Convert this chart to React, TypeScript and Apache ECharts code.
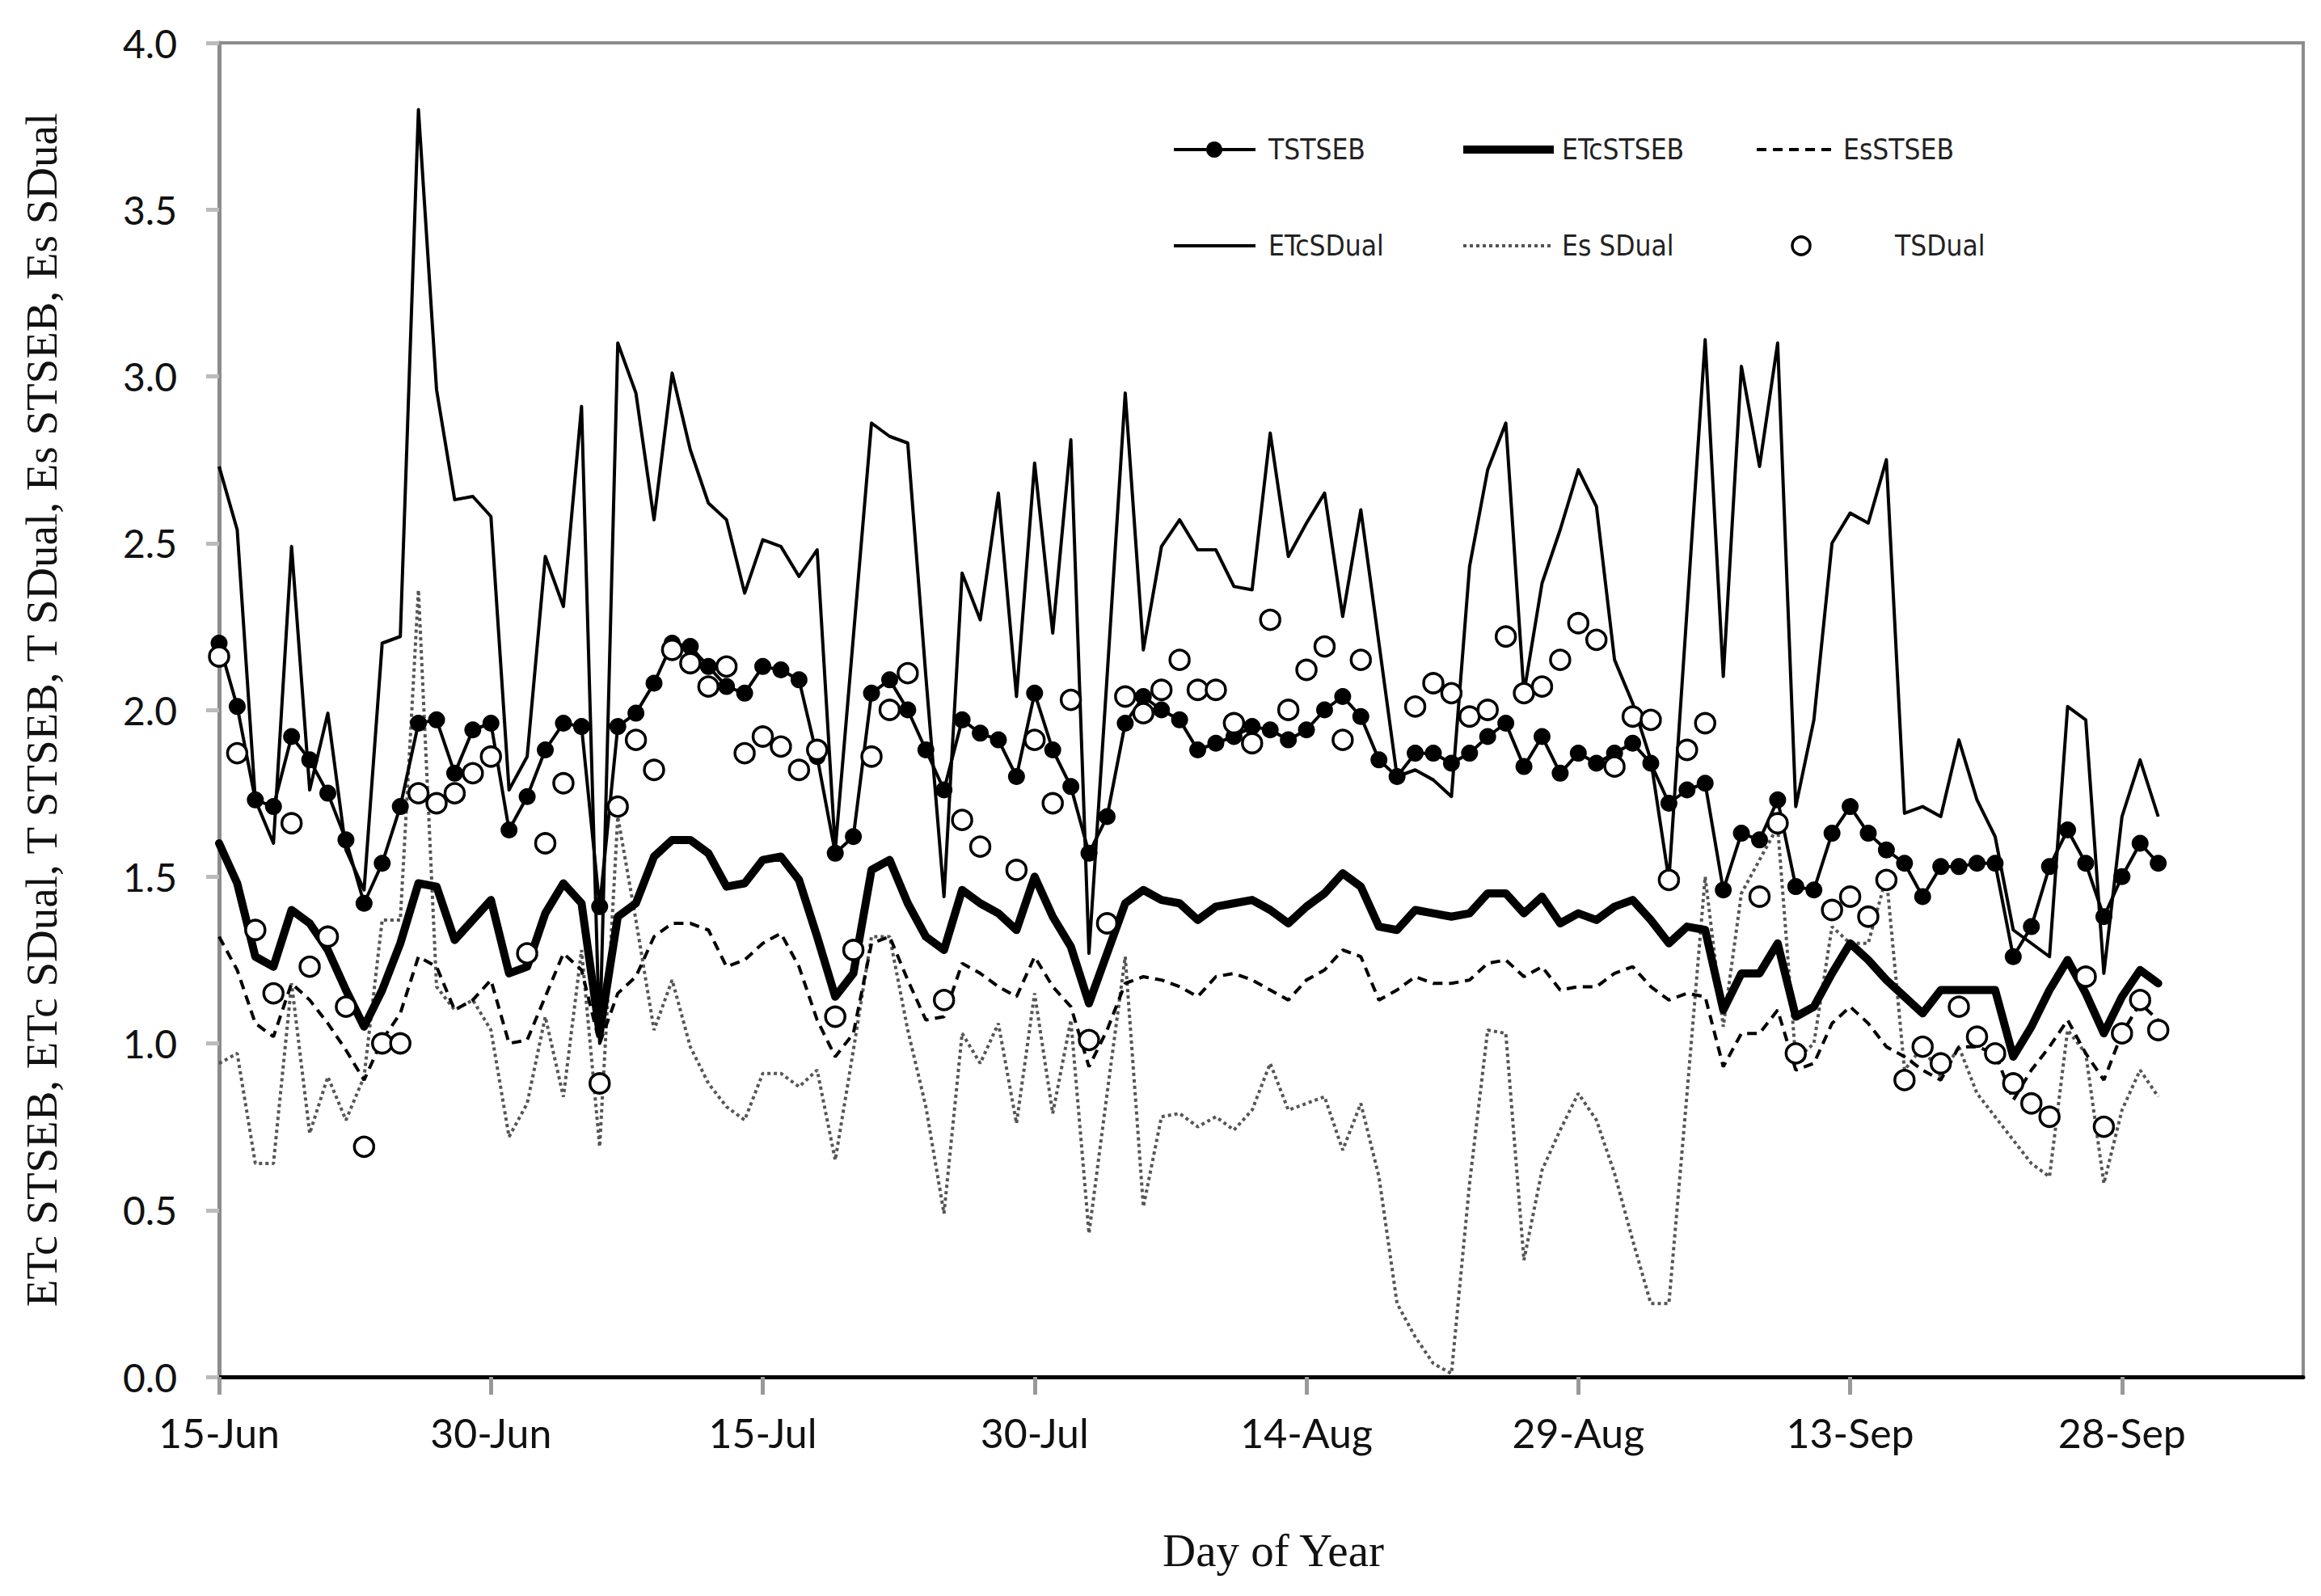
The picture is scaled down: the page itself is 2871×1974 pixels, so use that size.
import React, { useEffect, useRef } from "react";
import * as echarts from "echarts";

const W = 2871;
const H = 1974;

// x axis: days since 15-Jun, ticks every 15 days
const xTickLabels = ["15-Jun", "30-Jun", "15-Jul", "30-Jul", "14-Aug", "29-Aug", "13-Sep", "28-Sep"];

const tSTSEB = [
  2.20, 2.01, 1.73, 1.71, 1.92, 1.85, 1.75, 1.61, 1.42, 1.54,
  1.71, 1.96, 1.97, 1.81, 1.94, 1.96, 1.64, 1.74, 1.88, 1.96,
  1.95, 1.41, 1.95, 1.99, 2.08, 2.20, 2.19, 2.13,
  2.07, 2.05, 2.13, 2.12, 2.09, 1.86, 1.57, 1.62, 2.05, 2.09,
  2.00, 1.88, 1.76, 1.97, 1.93, 1.91, 1.80, 2.05, 1.88, 1.77,
  1.57, 1.68, 1.96, 2.04, 2.00, 1.97, 1.88,
  1.90, 1.92, 1.95, 1.94, 1.91, 1.94, 2.00, 2.04, 1.98, 1.85,
  1.80, 1.87, 1.87, 1.84, 1.87, 1.92, 1.96, 1.83, 1.92, 1.81,
  1.87, 1.84, 1.87, 1.90, 1.84, 1.72, 1.76,
  1.78, 1.46, 1.63, 1.61, 1.73, 1.47, 1.46, 1.63, 1.71, 1.63,
  1.58, 1.54, 1.44, 1.53, 1.53, 1.54, 1.54, 1.26, 1.35, 1.53,
  1.64, 1.54, 1.38, 1.50, 1.60, 1.54,
];

const etcSTSEB = [
  1.60, 1.48, 1.26, 1.23, 1.40, 1.36, 1.28, 1.16, 1.05, 1.16,
  1.30, 1.48, 1.47, 1.31, 1.37, 1.43, 1.21, 1.23, 1.39, 1.48,
  1.42, 1.03, 1.38, 1.42, 1.56, 1.61, 1.61, 1.57,
  1.47, 1.48, 1.55, 1.56, 1.49, 1.32, 1.14, 1.21, 1.52, 1.55,
  1.42, 1.32, 1.28, 1.46, 1.42, 1.39, 1.34, 1.50, 1.38, 1.29,
  1.12, 1.27, 1.42, 1.46, 1.43, 1.42, 1.37,
  1.41, 1.42, 1.43, 1.40, 1.36, 1.41, 1.45, 1.51, 1.47, 1.35,
  1.34, 1.40, 1.39, 1.38, 1.39, 1.45, 1.45, 1.39, 1.44, 1.36,
  1.39, 1.37, 1.41, 1.43, 1.37, 1.30, 1.35,
  1.34, 1.10, 1.21, 1.21, 1.30, 1.08, 1.11, 1.21, 1.30, 1.25,
  1.19, 1.14, 1.09, 1.16, 1.16, 1.16, 1.16, 0.96, 1.05, 1.16,
  1.25, 1.15, 1.03, 1.14, 1.22, 1.18,
];

const esSTSEB = [
  1.32, 1.22, 1.06, 1.02, 1.18, 1.13, 1.06, 0.98, 0.89, 1.01,
  1.09, 1.26, 1.23, 1.10, 1.13, 1.19, 1.00, 1.01, 1.14, 1.27,
  1.22, 1.00, 1.15, 1.20, 1.32, 1.36, 1.36, 1.34,
  1.23, 1.25, 1.30, 1.33, 1.23, 1.07, 0.96, 1.03, 1.30, 1.32,
  1.19, 1.07, 1.08, 1.24, 1.21, 1.17, 1.14, 1.26, 1.17, 1.11,
  0.93, 1.04, 1.18, 1.20, 1.19, 1.17, 1.14,
  1.20, 1.21, 1.19, 1.16, 1.13, 1.19, 1.22, 1.28, 1.26, 1.13,
  1.16, 1.20, 1.18, 1.18, 1.19, 1.24, 1.25, 1.20, 1.23, 1.16,
  1.17, 1.17, 1.21, 1.23, 1.17, 1.13, 1.15,
  1.14, 0.93, 1.03, 1.03, 1.10, 0.92, 0.94, 1.06, 1.11, 1.06,
  0.99, 0.96, 0.92, 0.89, 0.99, 0.99, 0.97, 0.83, 0.92, 0.99,
  1.07, 0.97, 0.89, 1.03, 1.12, 1.07,
];

const etcSDual = [
  2.73, 2.54, 1.73, 1.60, 2.49, 1.76, 1.99, 1.58, 1.46, 2.20,
  2.22, 3.80, 2.96, 2.63, 2.64, 2.58, 1.76, 1.86, 2.46, 2.31,
  2.91, 1.00, 3.10, 2.95, 2.57, 3.01, 2.78, 2.62,
  2.57, 2.35, 2.51, 2.49, 2.40, 2.48, 1.58, 2.22, 2.86, 2.82,
  2.80, 2.10, 1.44, 2.41, 2.27, 2.65, 2.04, 2.74, 2.23, 2.81,
  1.27, 2.10, 2.95, 2.18, 2.49, 2.57, 2.48,
  2.48, 2.37, 2.36, 2.83, 2.46, 2.56, 2.65, 2.28, 2.60, 2.20,
  1.80, 1.82, 1.79, 1.74, 2.43, 2.72, 2.86, 2.05, 2.38, 2.54,
  2.72, 2.61, 2.15, 2.02, 1.85, 1.49, 2.30,
  3.11, 2.10, 3.03, 2.73, 3.10, 1.71, 1.97, 2.50, 2.59, 2.56,
  2.75, 1.69, 1.71, 1.68, 1.91, 1.73, 1.62, 1.34, 1.30, 1.26,
  2.01, 1.97, 1.21, 1.68, 1.85, 1.68,
];

const esSDual = [
  0.94, 0.97, 0.64, 0.64, 1.18, 0.73, 0.90, 0.77, 0.90, 1.37,
  1.37, 2.36, 1.17, 1.10, 1.13, 1.04, 0.72, 0.82, 1.08, 0.84,
  1.28, 0.69, 1.68, 1.37, 1.04, 1.19, 0.99, 0.88,
  0.81, 0.77, 0.91, 0.91, 0.87, 0.92, 0.65, 0.98, 1.32, 1.32,
  1.04, 0.81, 0.49, 1.03, 0.94, 1.06, 0.76, 1.15, 0.79, 1.07,
  0.43, 0.85, 1.26, 0.51, 0.78, 0.79, 0.75,
  0.78, 0.74, 0.80, 0.94, 0.80, 0.82, 0.84, 0.68, 0.82, 0.60,
  0.22, 0.12, 0.04, 0.01, 0.58, 1.04, 1.03, 0.35, 0.62, 0.74,
  0.85, 0.77, 0.61, 0.41, 0.22, 0.22, 0.85,
  1.50, 1.05, 1.45, 1.55, 1.65, 0.95, 1.00, 1.35, 1.30, 1.30,
  1.50, 0.92, 0.99, 0.90, 0.99, 0.85, 0.78, 0.71, 0.64, 0.60,
  1.04, 0.97, 0.58, 0.80, 0.92, 0.84,
];

const tSDual: (number | null)[] = [
  2.16, 1.87, 1.34, 1.15, 1.66, 1.23, 1.32, 1.11, 0.69, 1.00,
  1.00, 1.75, 1.72, 1.75, 1.81, 1.86, null, 1.27, 1.60, 1.78,
  null, 0.88, 1.71, 1.91, 1.82, 2.18, 2.14, 2.07,
  2.13, 1.87, 1.92, 1.89, 1.82, 1.88, 1.08, 1.28, 1.86, 2.00,
  2.11, null, 1.13, 1.67, 1.59, null, 1.52, 1.91, 1.72, 2.03,
  1.01, 1.36, 2.04, 1.99, 2.06, 2.15, 2.06,
  2.06, 1.96, 1.90, 2.27, 2.00, 2.12, 2.19, 1.91, 2.15, null,
  null, 2.01, 2.08, 2.05, 1.98, 2.00, 2.22, 2.05, 2.07, 2.15,
  2.26, 2.21, 1.83, 1.98, 1.97, 1.49, 1.88,
  1.96, null, null, 1.44, 1.66, 0.97, null, 1.40, 1.44, 1.38,
  1.49, 0.89, 0.99, 0.94, 1.11, 1.02, 0.97, 0.88, 0.82, 0.78,
  null, 1.20, 0.75, 1.03, 1.13, 1.04,
];

const pairs = (arr: (number | null)[]) =>
  arr.flatMap((v, i) => (v == null ? [] : [[i, v]]));

const legendFont = "'Liberation Sans Narrow', 'DejaVu Sans Condensed', 'Noto Sans', sans-serif";

function legendText(text: string, x: number, y: number) {
  return {
    type: "text",
    x,
    y,
    silent: true,
    style: {
      text,
      fill: "#222",
      fontFamily: legendFont,
      fontSize: 35,
      verticalAlign: "middle",
      align: "left",
    },
  };
}

function legendLine(x1: number, x2: number, y: number, width: number, dash?: number[], color = "#000") {
  return {
    type: "line",
    silent: true,
    shape: { x1, y1: y, x2, y2: y },
    style: { stroke: color, lineWidth: width, lineDash: dash || null, lineCap: "butt" },
  };
}

export default function App() {
  const ref = useRef<HTMLDivElement>(null);

  useEffect(() => {
    if (!ref.current) return;
    const chart = echarts.init(ref.current, undefined, { renderer: "svg", width: W, height: H });

    const r1 = 185;
    const r2 = 304;

    const graphic = [
      legendLine(1452, 1553, r1, 4),
      { type: "circle", silent: true, shape: { cx: 1502, cy: r1, r: 10 }, style: { fill: "#000" } },
      legendText("TSTSEB", 1569, r1),
      legendLine(1810, 1922, r1, 10),
      legendText("ETcSTSEB", 1932, r1),
      legendLine(2173, 2270, r1, 4, [12, 8]),
      legendText("EsSTSEB", 2280, r1),
      legendLine(1452, 1553, r2, 4),
      legendText("ETcSDual", 1569, r2),
      legendLine(1810, 1922, r2, 4, [4, 4], "#555"),
      legendText("Es SDual", 1932, r2),
      {
        type: "circle",
        silent: true,
        shape: { cx: 2228, cy: r2, r: 11 },
        style: { fill: "#fff", stroke: "#000", lineWidth: 3.5 },
      },
      legendText("TSDual", 2344, r2),
    ];

    const option: any = {
      animation: false,
      backgroundColor: "#ffffff",
      grid: {
        left: 271,
        right: 22,
        top: 53,
        bottom: 271,
        show: true,
        borderColor: "#8c8c8c",
        borderWidth: 4,
        backgroundColor: "transparent",
      },
      graphic,
      xAxis: {
        type: "value",
        min: 0,
        max: 115,
        interval: 15,
        name: "Day of Year",
        nameLocation: "middle",
        nameGap: 186,
        nameTextStyle: {
          fontFamily: "'Liberation Serif', 'DejaVu Serif', serif",
          fontSize: 57,
          color: "#111",
          padding: [0, 0, 0, 30],
        },
        axisLine: { show: true, lineStyle: { color: "#000", width: 5 } },
        axisTick: { show: true, length: 22, lineStyle: { color: "#999", width: 5 } },
        axisLabel: {
          margin: 44,
          fontFamily: "Lato, 'Open Sans', sans-serif",
          fontSize: 50,
          color: "#111",
          showMaxLabel: false,
          formatter: (v: number) => {
            const i = v / 15;
            return Number.isInteger(i) && xTickLabels[i] ? xTickLabels[i] : "";
          },
        },
        splitLine: { show: false },
      },
      yAxis: {
        type: "value",
        min: 0,
        max: 4,
        interval: 0.5,
        name: "ETc STSEB, ETc SDual, T STSEB, T SDual, Es STSEB, Es SDual",
        nameLocation: "middle",
        nameRotate: 90,
        nameGap: 192,
        nameTextStyle: { fontFamily: "'Liberation Serif', 'DejaVu Serif', serif", fontSize: 55, color: "#111" },
        axisLine: { show: true, lineStyle: { color: "#8c8c8c", width: 5 } },
        axisTick: { show: true, length: 16, lineStyle: { color: "#bbb", width: 5 } },
        axisLabel: {
          margin: 52,
          fontFamily: "Lato, 'Open Sans', sans-serif",
          fontSize: 48,
          color: "#111",
          formatter: (v: number) => v.toFixed(1),
        },
        splitLine: { show: false },
      },
      series: [
        {
          name: "ETcSDual",
          type: "line",
          data: pairs(etcSDual),
          symbol: "none",
          lineStyle: { color: "#000", width: 4, join: "round" },
          itemStyle: { color: "#000" },
          z: 2,
        },
        {
          name: "Es SDual",
          type: "line",
          data: pairs(esSDual),
          symbol: "none",
          lineStyle: { color: "#555", width: 4, type: [4, 4] },
          itemStyle: { color: "#555" },
          z: 3,
        },
        {
          name: "EsSTSEB",
          type: "line",
          data: pairs(esSTSEB),
          symbol: "none",
          lineStyle: { color: "#000", width: 4, type: [12, 8] },
          itemStyle: { color: "#000" },
          z: 4,
        },
        {
          name: "ETcSTSEB",
          type: "line",
          data: pairs(etcSTSEB),
          symbol: "none",
          lineStyle: { color: "#000", width: 10, join: "round", cap: "round" },
          itemStyle: { color: "#000" },
          z: 5,
        },
        {
          name: "TSTSEB",
          type: "line",
          data: pairs(tSTSEB),
          symbol: "circle",
          symbolSize: 21,
          showSymbol: true,
          showAllSymbol: true,
          lineStyle: { color: "#000", width: 4, join: "round" },
          itemStyle: { color: "#000" },
          z: 6,
        },
        {
          name: "TSDual",
          type: "scatter",
          data: pairs(tSDual),
          symbol: "circle",
          symbolSize: 24,
          itemStyle: { color: "#ffffff", opacity: 1, borderColor: "#000", borderWidth: 3.5 },
          z: 7,
        },
      ],
    };

    chart.setOption(option);
    return () => chart.dispose();
  }, []);

  return (
    <div
      ref={ref}
      style={{ position: "absolute", left: 0, top: 0, width: W, height: H, background: "#fff" }}
    />
  );
}
